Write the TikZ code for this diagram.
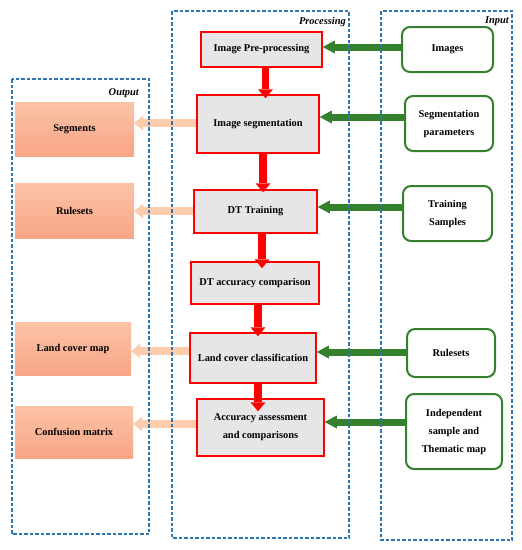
\documentclass[tikz,border=0pt]{standalone}
\usepackage{fontspec}
\setmainfont{Liberation Serif}
\usetikzlibrary{arrows.meta}
\definecolor{procred}{RGB}{255,0,0}
\definecolor{procgray}{RGB}{230,230,230}
\definecolor{ingreen}{RGB}{52,128,44}
\definecolor{outpeach}{RGB}{252,204,172}
\definecolor{outtop}{RGB}{252,194,166}
\definecolor{outbot}{RGB}{247,166,134}
\definecolor{groupblue}{RGB}{46,117,182}
\begin{document}
\begin{tikzpicture}[x=1pt,y=-1pt,
    every node/.style = {align=center, inner sep=0pt,
      font=\fontsize{10.4}{18}\selectfont\bfseries},
    proc/.style = {draw=procred, line width=1.5pt, fill=procgray},
    inbox/.style = {draw=ingreen, line width=2pt, rounded corners=8pt, fill=white},
    outbox/.style = {top color=outtop, bottom color=outbot},
    group/.style = {draw=groupblue, line width=1.2pt, dash pattern=on 3.5pt off 2pt},
    grouplabel/.style = {anchor=east, font=\fontsize{10.4}{12}\selectfont\bfseries\itshape},
    downarrow/.style = {draw=procred, line width=7.5pt,
      -{Triangle[width=15pt,length=9pt,line width=0pt]}},
    inarrow/.style = {draw=ingreen, line width=7pt,
      -{Triangle[width=13pt,length=12pt,line width=0pt]}},
    outarrow/.style = {draw=outpeach, line width=7.5pt,
      -{Triangle[width=15pt,length=9pt,line width=0pt]}}]
  \useasboundingbox (0,0) rectangle (522,550);

  \node[proc, minimum width=121pt, minimum height=35pt] (pre) at (261.5,49.5) {Image Pre-processing};
  \node[proc, minimum width=122pt, minimum height=58pt] (seg) at (258,124) {Image segmentation};
  \node[proc, minimum width=123pt, minimum height=43pt] (dtt) at (255.5,211.5) {DT Training};
  \node[proc, minimum width=128pt, minimum height=42pt] (dta) at (255,283) {DT accuracy comparison};
  \node[proc, minimum width=126pt, minimum height=50pt] (lcc) at (253,358) {Land cover classification};
  \node[proc, minimum width=127pt, minimum height=57pt] (acc) at (260.5,427.5) {Accuracy assessment\\and comparisons};

  \node[inbox, minimum width=91pt, minimum height=45pt] (img) at (447.5,49.5) {Images};
  \node[inbox, minimum width=88pt, minimum height=55pt] (spar) at (449,123.5) {Segmentation\\parameters};
  \node[inbox, minimum width=89pt, minimum height=55pt] (tsam) at (447.5,213.5) {Training\\Samples};
  \node[inbox, minimum width=88pt, minimum height=48pt] (rset) at (451,353) {Rulesets};
  \node[inbox, minimum width=96pt, minimum height=75pt] (indep) at (454,431.5) {Independent\\sample and\\Thematic map};

  \node[outbox, minimum width=119pt, minimum height=54pt] (segs) at (74.5,129) {Segments};
  \node[outbox, minimum width=119pt, minimum height=55pt] (rules) at (74.5,210.5) {Rulesets};
  \node[outbox, minimum width=116pt, minimum height=53pt] (lcm) at (73,348.5) {Land cover map};
  \node[outbox, minimum width=118pt, minimum height=52pt] (conf) at (74,432) {Confusion matrix};

  \foreach \a/\b/\dx/\dy in {pre/seg/4pt/4pt, seg/dtt/5pt/3pt, dtt/dta/6.5pt/7pt, dta/lcc/3pt/4pt, lcc/acc/5pt/13pt}
    \draw[downarrow, shorten >=-\dy] ([xshift=\dx]\a.south) -- ([xshift=\dx]\a.south |- \b.north);
  \foreach \a/\b/\dy in {img/pre/2.5pt, spar/seg/6.5pt, tsam/dtt/6.5pt, rset/lcc/1pt, indep/acc/9.5pt}
    \draw[inarrow] ([yshift=\dy]\a.west) -- ([yshift=\dy]\a.west -| \b.east);
  \foreach \a/\b/\dy in {seg/segs/1pt, dtt/rules/0.5pt, lcc/lcm/7pt, acc/conf/3.5pt}
    \draw[outarrow] ([yshift=\dy]\a.west) -- ([yshift=\dy]\a.west -| \b.east);

  \draw[group] (12,79) rectangle (149,534);
  \draw[group] (172,11) rectangle (349,538);
  \draw[group] (381,11) rectangle (512,540);
  \node[grouplabel] (outlbl) at (139,93) {Output};
  \node[grouplabel] (proclbl) at (346,22) {Processing};
  \node[grouplabel] (inlbl) at (509,21) {Input};
\end{tikzpicture}
\end{document}
